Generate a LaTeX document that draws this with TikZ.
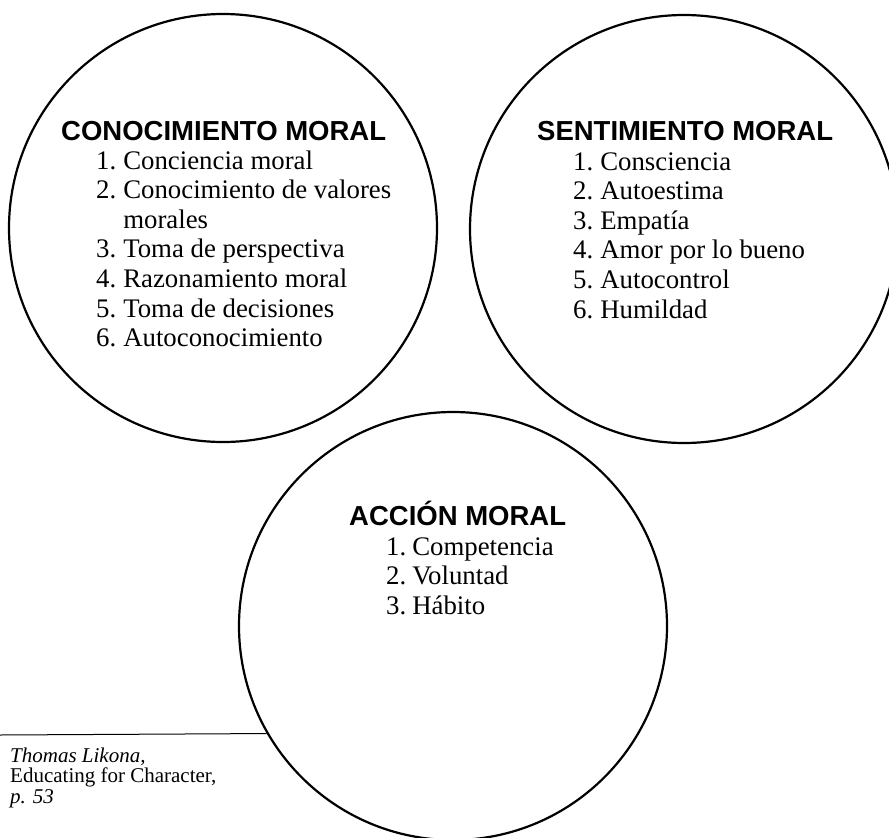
\documentclass[tikz,border=0pt]{standalone}
\usepackage{fontspec}
\setmainfont{Liberation Serif}
\newfontfamily\headfont{Liberation Sans}

\begin{document}
\begin{tikzpicture}[x=1pt, y=-1pt,
    ring/.style={circle, draw, line width=2.2pt, minimum size=428pt, inner sep=0pt},
    heading/.style={anchor=base west, inner sep=0pt, font=\headfont\bfseries\fontsize{27.5}{30}\selectfont},
    itemlist/.style={anchor=base west, inner sep=0pt, font=\fontsize{26.8}{29.6}\selectfont}]
    \useasboundingbox (0,0) rectangle (889,838);

    % Three circles
    \node[ring] (conocimiento) at (223,228) {};
    \node[ring] (sentimiento) at (684,229) {};
    \node[ring] (accion) at (453,626) {};

    % Moral knowing
    \node[heading] (conocimientoT) at (61,140) {CONOCIMIENTO MORAL};
    \node[itemlist] (conocimientoL) at (96,169) {\begin{tabular}[t]{@{}r@{\hspace{7pt}}l@{}}
        1. & Conciencia moral\\
        2. & Conocimiento de valores\\
           & morales\\
        3. & Toma de perspectiva\\
        4. & Razonamiento moral\\
        5. & Toma de decisiones\\
        6. & Autoconocimiento
    \end{tabular}};

    % Moral feeling
    \node[heading] (sentimientoT) at (537,140) {SENTIMIENTO MORAL};
    \node[itemlist] (sentimientoL) at (573,170) {\begin{tabular}[t]{@{}r@{\hspace{7pt}}l@{}}
        1. & Consciencia\\
        2. & Autoestima\\
        3. & Empatía\\
        4. & Amor por lo bueno\\
        5. & Autocontrol\\
        6. & Humildad
    \end{tabular}};

    % Moral action
    \node[heading] (accionT) at (349,525) {ACCIÓN MORAL};
    \node[itemlist] (accionL) at (386,555) {\begin{tabular}[t]{@{}r@{\hspace{6pt}}l@{}}
        1. & Competencia\\
        2. & Voluntad\\
        3. & Hábito
    \end{tabular}};

    % Source note
    \coordinate (notestart) at (0,735);
    \draw[line width=1pt] (notestart) -- (accion.210.6);
    \node[anchor=base west, inner sep=0pt, font=\fontsize{21}{20.5}\selectfont] (source) at (10,762) {\begin{tabular}[t]{@{}l@{}}
        \textit{Thomas Likona,}\\
        Educating for Character,\\
        \textit{p. 53}
    \end{tabular}};

\end{tikzpicture}
\end{document}
